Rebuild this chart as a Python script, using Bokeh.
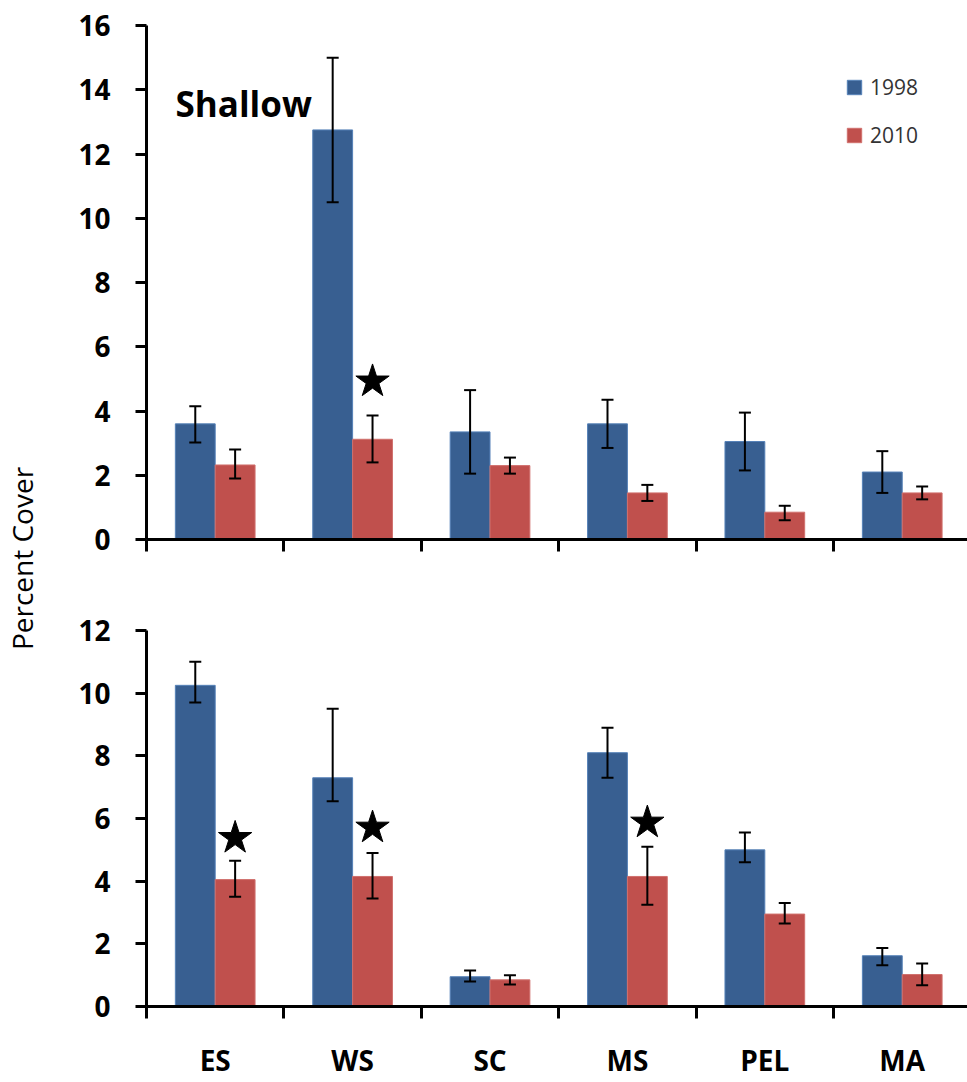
import numpy as np
from bokeh.plotting import figure
from bokeh.models import (Range1d, LinearAxis, FixedTicker, Whisker, TeeHead, ColumnDataSource,
                          Label, Legend, LegendItem)
from bokeh.layouts import row, column
from bokeh.embed import file_html
from bokeh.resources import INLINE

# ---------------- data ----------------
categories = ["ES", "WS", "SC", "MS", "PEL", "MA"]
years = ["1998", "2010"]

shallow_1998 = [3.6, 12.75, 3.35, 3.6, 3.05, 2.1]
shallow_1998_hi = [4.15, 15.0, 4.65, 4.35, 3.95, 2.75]
shallow_1998_lo = [3.02, 10.5, 2.05, 2.85, 2.15, 1.45]
shallow_2010 = [2.32, 3.12, 2.3, 1.45, 0.85, 1.45]
shallow_2010_hi = [2.8, 3.86, 2.55, 1.7, 1.05, 1.65]
shallow_2010_lo = [1.9, 2.4, 2.05, 1.2, 0.6, 1.25]

deep_1998 = [10.25, 7.3, 0.95, 8.1, 5.0, 1.62]
deep_1998_hi = [11.0, 9.5, 1.15, 8.9, 5.55, 1.87]
deep_1998_lo = [9.7, 6.55, 0.8, 7.3, 4.6, 1.32]
deep_2010 = [4.05, 4.15, 0.85, 4.15, 2.95, 1.02]
deep_2010_hi = [4.65, 4.9, 1.0, 5.1, 3.3, 1.37]
deep_2010_lo = [3.5, 3.45, 0.7, 3.25, 2.65, 0.68]

shallow_star_cats = ["WS"]
shallow_star_y = [4.92]
deep_star_cats = ["ES", "WS", "MS"]
deep_star_y = [5.38, 5.71, 5.87]

shallow_ticks = [0, 2, 4, 6, 8, 10, 12, 14, 16]
deep_ticks = [0, 2, 4, 6, 8, 10, 12]

panel_title = "Shallow"
y_title = "Percent Cover"

# ---------------- style ----------------
BLUE = "#385F91"
BLUE_EDGE = "#5682B8"
RED = "#C0504D"
RED_EDGE = "#D0706D"
FONT = "Open Sans"
BAR_W = 0.29
X_END = 5.975

idx = np.arange(len(categories))
centers = idx + 0.5
x_blue = centers - BAR_W / 2
x_red = centers + BAR_W / 2


def make_panel(v98, h98, l98, v10, h10, l10, star_cats, star_y, ticks,
               height, border_top, border_bottom, show_labels, legend, title):
    ymax = ticks[-1]
    p = figure(width=907, height=height, output_backend="svg", toolbar_location=None,
               x_range=Range1d(0, X_END), y_range=Range1d(0, ymax),
               x_axis_location=None, y_axis_location=None,
               min_border_left=86, min_border_right=0,
               min_border_top=border_top, min_border_bottom=border_bottom)
    p.outline_line_color = None
    p.xgrid.visible = False
    p.ygrid.visible = False
    p.background_fill_color = "white"

    s98 = ColumnDataSource(dict(x=x_blue, top=v98, upper=h98, lower=l98))
    s10 = ColumnDataSource(dict(x=x_red, top=v10, upper=h10, lower=l10))
    r98 = p.vbar(x="x", top="top", width=BAR_W, source=s98, fill_color=BLUE,
                 line_color=BLUE_EDGE, line_width=1)
    r10 = p.vbar(x="x", top="top", width=BAR_W, source=s10, fill_color=RED,
                 line_color=RED_EDGE, line_width=1)

    for src in (s98, s10):
        p.add_layout(Whisker(base="x", upper="upper", lower="lower", source=src,
                             level="overlay", line_width=2, line_color="black",
                             upper_head=TeeHead(size=12, line_width=2, line_color="black"),
                             lower_head=TeeHead(size=12, line_width=2, line_color="black")))

    sx = [x_red[categories.index(c)] for c in star_cats]
    p.scatter(x=sx, y=star_y, marker="star", size=35, fill_color="black", line_color="black")

    yax = LinearAxis(ticker=FixedTicker(ticks=ticks, minor_ticks=[]),
                     axis_line_width=3, axis_line_color="black",
                     major_tick_line_width=3, major_tick_line_color="black",
                     major_tick_out=11, major_tick_in=0,
                     minor_tick_line_color=None,
                     major_label_standoff=25,
                     major_label_text_font=FONT, major_label_text_font_style="bold",
                     major_label_text_font_size="28px", major_label_text_color="black")
    p.add_layout(yax, "left")

    label_ticks = list(centers) if show_labels else []
    overrides = {float(c): name for c, name in zip(centers, categories)} if show_labels else {}
    xax = LinearAxis(ticker=FixedTicker(ticks=label_ticks,
                                        minor_ticks=list(range(len(categories) + 1))),
                     axis_line_width=3, axis_line_color="black",
                     major_tick_out=0, major_tick_in=0, major_tick_line_color=None,
                     minor_tick_out=12, minor_tick_in=0, minor_tick_line_width=3,
                     minor_tick_line_color="black",
                     major_label_overrides=overrides,
                     major_label_text_font=FONT, major_label_text_font_style="bold",
                     major_label_text_font_size="28px" if show_labels else "0px",
                     major_label_text_color="black",
                     major_label_standoff=22 if show_labels else 0)
    p.add_layout(xax, "below")

    if title:
        p.add_layout(Label(x=29, y=436, x_units="screen", y_units="screen", text=title,
                           text_font=FONT, text_font_style="bold", text_font_size="35px",
                           text_color="black", text_baseline="alphabetic"))

    if legend:
        leg = Legend(items=[LegendItem(label=years[0], renderers=[r98]),
                            LegendItem(label=years[1], renderers=[r10])],
                     location=(699, 390), padding=0, margin=0, spacing=20,
                     glyph_width=18, glyph_height=18, label_standoff=7, label_height=24,
                     label_text_font=FONT, label_text_font_size="21px",
                     label_text_color="#333333",
                     border_line_color=None, background_fill_alpha=0)
        p.add_layout(leg, "center")
    return p


top = make_panel(shallow_1998, shallow_1998_hi, shallow_1998_lo,
                 shallow_2010, shallow_2010_hi, shallow_2010_lo,
                 shallow_star_cats, shallow_star_y, shallow_ticks,
                 height=580, border_top=25, border_bottom=41,
                 show_labels=False, legend=True, title=panel_title)
bot = make_panel(deep_1998, deep_1998_hi, deep_1998_lo,
                 deep_2010, deep_2010_hi, deep_2010_lo,
                 deep_star_cats, deep_star_y, deep_ticks,
                 height=502, border_top=50, border_bottom=76,
                 show_labels=True, legend=False, title=None)

lab = figure(width=60, height=1082, output_backend="svg", toolbar_location=None,
             x_range=Range1d(0, 1), y_range=Range1d(0, 1),
             x_axis_location=None, y_axis_location=None,
             min_border=0)
lab.outline_line_color = None
lab.xgrid.visible = False
lab.ygrid.visible = False
lab.add_layout(Label(x=21, y=524, x_units="screen", y_units="screen", text=y_title,
                     angle=np.pi / 2, text_align="center", text_baseline="middle",
                     text_font=FONT, text_font_size="28px", text_color="black"))

layout = row(lab, column(top, bot, spacing=0), spacing=0)
open("out.html", "w").write(file_html(layout, INLINE))
